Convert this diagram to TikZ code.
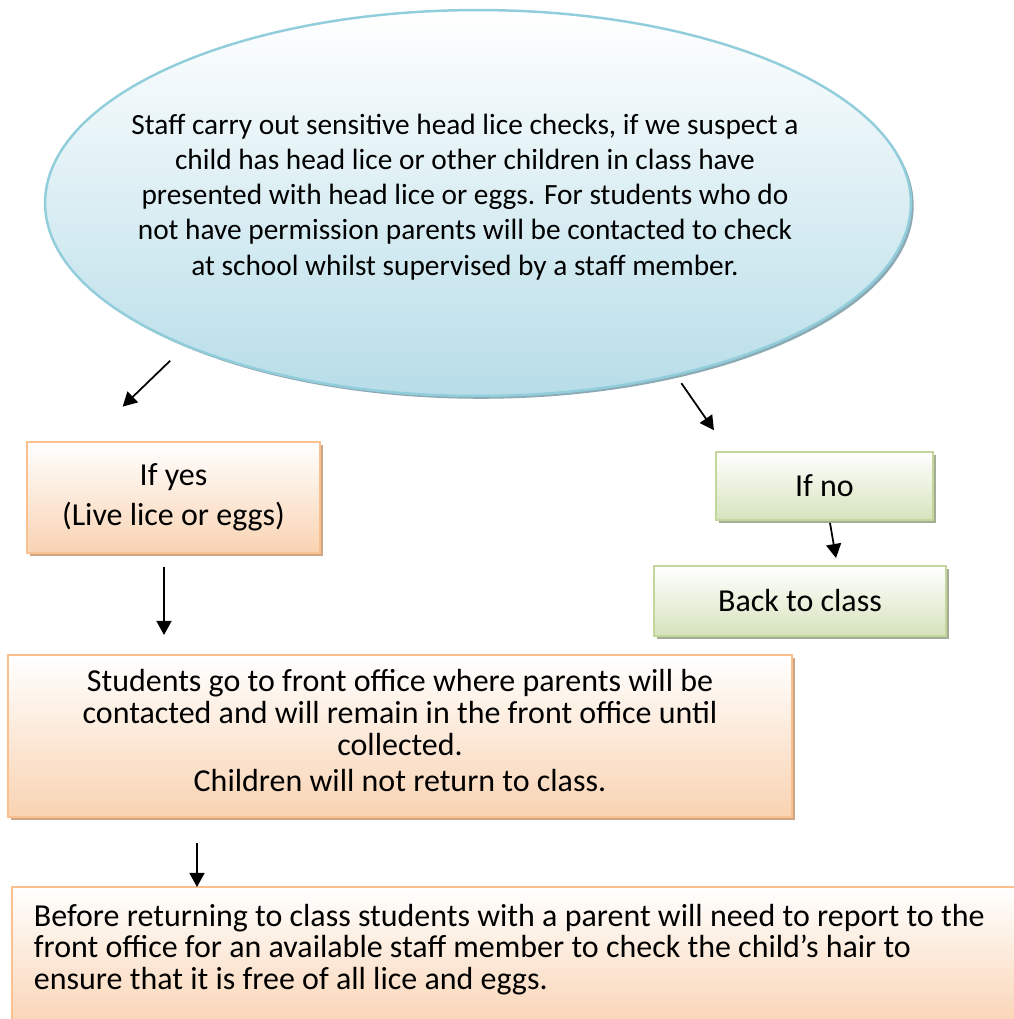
\documentclass[tikz,border=0pt]{standalone}
\usepackage{fontspec}
\setmainfont{Carlito}
\usetikzlibrary{shapes.geometric,shadows,arrows.meta}

\begin{document}
\begin{tikzpicture}[x=0.02cm, y=-0.02cm,
    %Option for nice arrows
    >={Triangle[length=8pt,width=8.5pt]}, %
    font=\fontsize{18.2}{18.2}\selectfont,%
    arrow/.style={->, line width=1pt},
    oval/.style={ellipse, draw=bluedraw, line width=1.4pt, inner sep=0pt, outer sep=0pt,
        top color=white, bottom color=bluefill,
        drop shadow={shadow xshift=1.6pt, shadow yshift=-1.6pt, opacity=1, fill=blueshadow}},
    orbox/.style={rectangle, draw=ordraw, line width=1.2pt, outer sep=0pt, align=center,
        top color=white, bottom color=orfill,
        drop shadow={shadow xshift=1.7pt, shadow yshift=-1.7pt, opacity=1, fill=orshadow}},
    grbox/.style={rectangle, draw=grdraw, line width=1.2pt, outer sep=0pt, align=center,
        top color=white, bottom color=grfill,
        drop shadow={shadow xshift=1.7pt, shadow yshift=-1.7pt, opacity=1, fill=grshadow}},
]
    % Colors
    \definecolor{bluedraw}{RGB}{146,205,220}
    \definecolor{bluefill}{RGB}{183,221,232}
    \definecolor{blueshadow}{RGB}{140,170,180}
    \definecolor{ordraw}{RGB}{250,192,144}
    \definecolor{orfill}{RGB}{249,211,178}
    \definecolor{orshadow}{RGB}{205,165,135}
    \definecolor{grdraw}{RGB}{195,214,155}
    \definecolor{grfill}{RGB}{214,227,188}
    \definecolor{grshadow}{RGB}{165,172,150}

    % Frame
    \useasboundingbox (0,0) rectangle (1014,1019);

    % Head lice check
    \node[oval, minimum width=17.32cm, minimum height=7.72cm] (check) at (478,203) {};
    \node[align=center, font=\fontsize{16.7}{20}\selectfont] (checktext) at (465,197)
        {Staff carry out sensitive head lice checks, if we suspect a\\
         child has head lice or other children in class have\\
         presented with head lice or eggs. For students who do\\
         not have permission parents will be contacted to check\\
         at school whilst supervised by a staff member.};

    % Yes branch
    \node[orbox, minimum width=5.86cm, minimum height=2.22cm] (yes) at (173.5,497.5)
        {If yes\\[4.5pt](Live lice or eggs)};
    \node[orbox, minimum width=15.68cm, minimum height=3.24cm, text depth=6pt] (office) at (400,736)
        {Students go to front office where parents will be\\
         contacted and will remain in the front office until\\
         collected.\\[2.3pt]
         Children will not return to class.};
    \node[orbox, anchor=north west, align=flush left, text width=19.92cm, inner xsep=12.5pt,
          inner ysep=9.8pt, text depth=49pt, font=\fontsize{18.2}{17.9}\selectfont] (recheck) at (12,887)
        {Before returning to class students with a parent will need to report to the\\
         front office for an available staff member to check the child’s hair to\\
         ensure that it is free of all lice and eggs.};

    % No branch
    \node[grbox, minimum width=4.34cm, minimum height=1.36cm] (no) at (824.5,486) {If no};
    \node[grbox, minimum width=5.84cm, minimum height=1.4cm] (back) at (800,601) {Back to class};

    % Arrows
    \draw[arrow, shorten <=12.5pt, shorten >=29pt] (check.206) -- ([shift={(59,0)}]yes.north west);
    \draw[arrow, shorten <=5.9pt, shorten >=15.1pt] (check.319) -- ([shift={(13,0)}]no.north west);
    \draw[arrow, shorten <=8pt, shorten >=11.4pt] ([shift={(-9.5,0)}]yes.south) -- ([shift={(-236,0)}]office.north);
    \draw[arrow, shorten <=1.7pt, shorten >=4.6pt] ([shift={(5,0)}]no.south) -- ([shift={(37.4,0)}]back.north);
    \draw[arrow, shorten <=14.8pt] ([shift={(-203,0)}]office.south) -- ([shift={(185,0)}]recheck.north west);
\end{tikzpicture}
\end{document}
